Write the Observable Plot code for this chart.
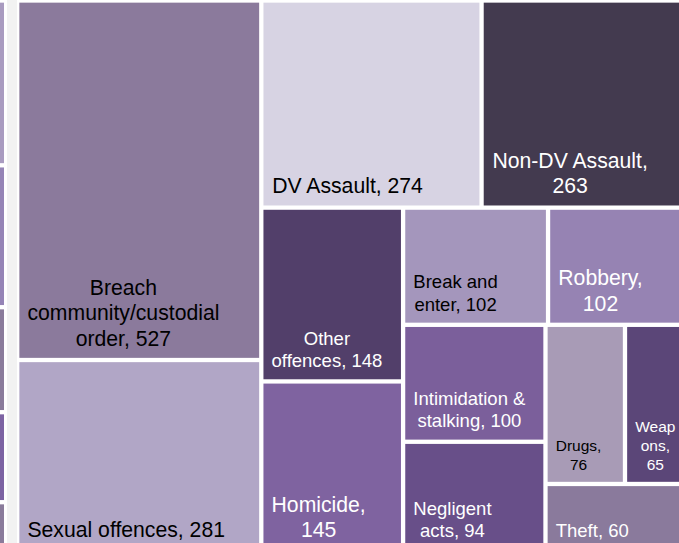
<!DOCTYPE html>
<html><head><meta charset="utf-8">
<script src="https://cdn.jsdelivr.net/npm/d3@7"></script>
<script src="https://cdn.jsdelivr.net/npm/@observablehq/plot@0.6"></script>
<style>
html,body{margin:0;padding:0;background:#fff;overflow:hidden;}
#chart{width:679px;height:543px;overflow:hidden;background:linear-gradient(to right,#fff 0,#fff 7px,#f2f2f2 7px,#f2f2f2 17px,#fff 17px);}
#chart svg{overflow:hidden;background:none;display:block;}
</style></head><body><div id="chart"></div>
<script>
// ---- data ----
const categories = ["Breach community/custodial order","Sexual offences","DV Assault","Non-DV Assault","Other offences","Homicide","Break and enter","Robbery","Intimidation & stalking","Negligent acts","Drugs","Weapons","Theft"];
const counts = [527,281,274,263,148,145,102,102,100,94,76,65,60];
// cut-off neighbouring column at the far left (relative sizes)
const stripSizes = [164.8,141.9,105,90,60];

// ---- styles ----
const cellColor = {
  "Breach community/custodial order":"#8b7a9c","Sexual offences":"#b1a6c6","DV Assault":"#d7d3e3",
  "Non-DV Assault":"#433a4f","Other offences":"#523f6a","Homicide":"#7f63a0","Break and enter":"#a496bc",
  "Robbery":"#9683b3","Intimidation & stalking":"#7b5f9b","Negligent acts":"#684f89","Drugs":"#a89bb6",
  "Weapons":"#5b4678","Theft":"#8a7a9c"
};
const stripColors = ["#a99bc0","#9584b6","#8a7b9b","#7d63a3","#8a7b9b"];
const labelTemplate = {
  "Breach community/custodial order":"Breach\ncommunity/custodial\norder, {v}",
  "Sexual offences":"Sexual offences, {v}","DV Assault":"DV Assault, {v}",
  "Non-DV Assault":"Non-DV Assault,\n{v}","Other offences":"Other\noffences, {v}",
  "Homicide":"Homicide,\n{v}","Break and enter":"Break and\nenter, {v}","Robbery":"Robbery,\n{v}",
  "Intimidation & stalking":"Intimidation &\nstalking, {v}","Negligent acts":"Negligent\nacts, {v}",
  "Drugs":"Drugs,\n{v}","Weapons":"Weap\nons,\n{v}","Theft":"Theft, {v}"
};
const sizeL = 21.2, sizeM = 18.5, sizeS = 15.5;
const labelSize = {
  "Breach community/custodial order":sizeL,"Sexual offences":sizeL,"DV Assault":sizeL,"Non-DV Assault":sizeL,
  "Homicide":sizeL,"Robbery":sizeL,"Other offences":sizeM,"Break and enter":sizeM,
  "Intimidation & stalking":sizeM,"Negligent acts":sizeM,"Theft":sizeM,"Drugs":sizeS,"Weapons":sizeS
};
const darkText = new Set(["Breach community/custodial order","Sexual offences","DV Assault","Break and enter","Drugs"]);
const FONT = "Liberation Sans, Arial, sans-serif";

// ---- layout ----
const W = 675.8, H = 551.2, X0 = 17.2, Y0 = 0.5, GAP = 2.15, PADX = 7.6, PADY = 14.8;

// strip tiling: rows of two nodes laid along the shorter side (Excel-like)
function tilePairs(parent, x0, y0, x1, y1) {
  const nodes = parent.children;
  let value = parent.value, i = 0;
  while (i < nodes.length) {
    const row = nodes.slice(i, i + 2);
    const sum = d3.sum(row, d => d.value);
    const rowNode = {children: row, value: sum};
    const dx = x1 - x0, dy = y1 - y0;
    if (dx < dy) { const yy = y0 + dy * sum / value; d3.treemapDice(rowNode, x0, y0, x1, yy); y0 = yy; }
    else { const xx = x0 + dx * sum / value; d3.treemapSlice(rowNode, x0, y0, xx, y1); x0 = xx; }
    value -= sum; i += 2;
  }
}
const root = d3.hierarchy({children: categories.map((name,i)=>({name, value: counts[i]}))})
  .sum(d => d.value ?? 0);
d3.treemap().tile(tilePairs).size([W,H]).round(false)(root);
const cells = root.leaves().map(n => ({name:n.data.name, value:n.data.value, x0:n.x0, x1:n.x1, y0:n.y0, y1:n.y1}));

const ctx = document.createElement("canvas").getContext("2d");
const labels = cells.map(c => {
  const text = labelTemplate[c.name].replace("{v}", c.value);
  const size = labelSize[c.name];
  ctx.font = `${size}px ${FONT}`;
  const bw = d3.max(text.split("\n"), l => ctx.measureText(l).width);
  return {name:c.name, text, size, x: c.x0 + GAP + PADX + bw/2, y: c.y1 - PADY,
          color: darkText.has(c.name) ? "#000000" : "#ffffff"};
});

const stripEnds = d3.cumsum(stripSizes);
const strip = stripSizes.map((s,i) => ({y1: stripEnds[i]-s, y2: stripEnds[i], fill: stripColors[i]}));
const stripX = [-X0, -X0 + 4];

const chart = Plot.plot({
  width: 679, height: 543, margin: 0,
  x: {domain:[0,W], range:[X0, X0+W], axis:null},
  y: {domain:[0,H], range:[Y0, Y0+H], axis:null},
  style: {background:"none", overflow:"hidden"},
  marks: [
    Plot.rect(strip, {x1: () => stripX[0], x2: () => stripX[1], y1:"y1", y2:"y2", fill: d=>d.fill, insetTop: GAP, insetBottom: GAP}),
    Plot.rect(cells, {x1:"x0", x2:"x1", y1:"y0", y2:"y1", fill: d => cellColor[d.name], inset: GAP}),
    Plot.text(labels, {x:"x", y:"y", text:"text", textAnchor:"middle", lineAnchor:"bottom",
      lineHeight: 1.2, fontSize: d=>d.size, fill: d=>d.color, fontFamily: FONT})
  ]
});
document.getElementById("chart").appendChild(chart);
</script></body></html>
